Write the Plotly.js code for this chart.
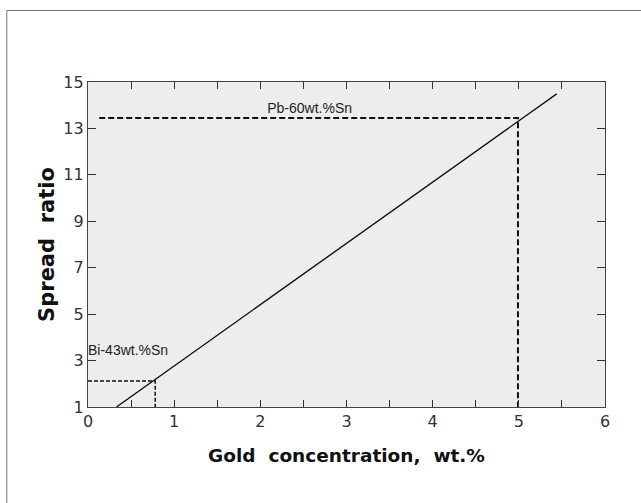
<!DOCTYPE html>
<html><head><meta charset="utf-8">
<script src="https://cdn.plot.ly/plotly-3.0.1.min.js"></script>
<style>body{margin:0;background:#fff}#c{width:641px;height:503px}</style>
</head><body><div id="c"></div>
<script>
// Data
const fitX = [0.33, 5.44];
const fitY = [1.0, 14.49];
const pbX = [0.13, 4.99, 4.99];
const pbY = [13.45, 13.45, 1.0];
const biX = [0.0, 0.78, 0.78];
const biY = [2.12, 2.12, 1.0];
const labelText = ["Pb-60wt.%Sn", "Bi-43wt.%Sn"];
const labelX = [2.08, 0.0];
const labelY = [13.82, 3.37];
const xTickVals = [0, 1, 2, 3, 4, 5, 6];
const yTickVals = [1, 3, 5, 7, 9, 11, 13, 15];

const fnt = "DejaVu Sans, sans-serif";
const traces = [
  {x: fitX, y: fitY, mode: "lines", line: {color: "#111", width: 1.4}, hoverinfo: "skip"},
  {x: pbX, y: pbY, mode: "lines", line: {color: "#111", width: 2, dash: "6px,3px"}, hoverinfo: "skip"},
  {x: biX, y: biY, mode: "lines", line: {color: "#111", width: 1.5, dash: "4px,2px"}, hoverinfo: "skip"},
  {x: labelX, y: labelY, mode: "text", text: labelText, textposition: "middle right",
   textfont: {family: "Liberation Sans, sans-serif", size: 14, color: "#222"}, hoverinfo: "skip", cliponaxis: false}
];

const layout = {
  width: 641, height: 503,
  margin: {l: 88, r: 36, t: 82, b: 96},
  paper_bgcolor: "#fff",
  plot_bgcolor: "#ededed",
  showlegend: false,
  font: {family: fnt, color: "#222"},
  xaxis: {
    range: [0, 6], tickvals: xTickVals, ticks: "inside", ticklen: 7, tickcolor: "#333",
    minor: {dtick: 0.5, ticks: "inside", ticklen: 7, tickcolor: "#333"},
    showgrid: false, zeroline: false, showline: true, linecolor: "#444", linewidth: 1.2, mirror: "ticks",
    tickfont: {family: fnt, size: 16, color: "#333"},
    title: {text: "<b>Gold  concentration,  wt.%</b>", font: {family: fnt, size: 18.5, color: "#111"}, standoff: 18}
  },
  yaxis: {
    range: [1, 15], tickvals: yTickVals, ticks: "inside", ticklen: 8, tickcolor: "#333",
    showgrid: false, zeroline: false, showline: true, linecolor: "#444", linewidth: 1.2, mirror: "ticks",
    tickfont: {family: fnt, size: 16, color: "#333"},
    title: {text: "<b>Spread&nbsp;&nbsp;ratio</b>", font: {family: fnt, size: 21, color: "#111"}, standoff: 2}
  },
  shapes: [
    {type: "rect", xref: "paper", yref: "paper", x0: -0.157, x1: 1.2, y0: -0.3, y1: 1.22,
     line: {color: "#777", width: 1}, fillcolor: "rgba(0,0,0,0)", layer: "below"}
  ]
};
Plotly.newPlot("c", traces, layout, {staticPlot: true});
</script></body></html>
